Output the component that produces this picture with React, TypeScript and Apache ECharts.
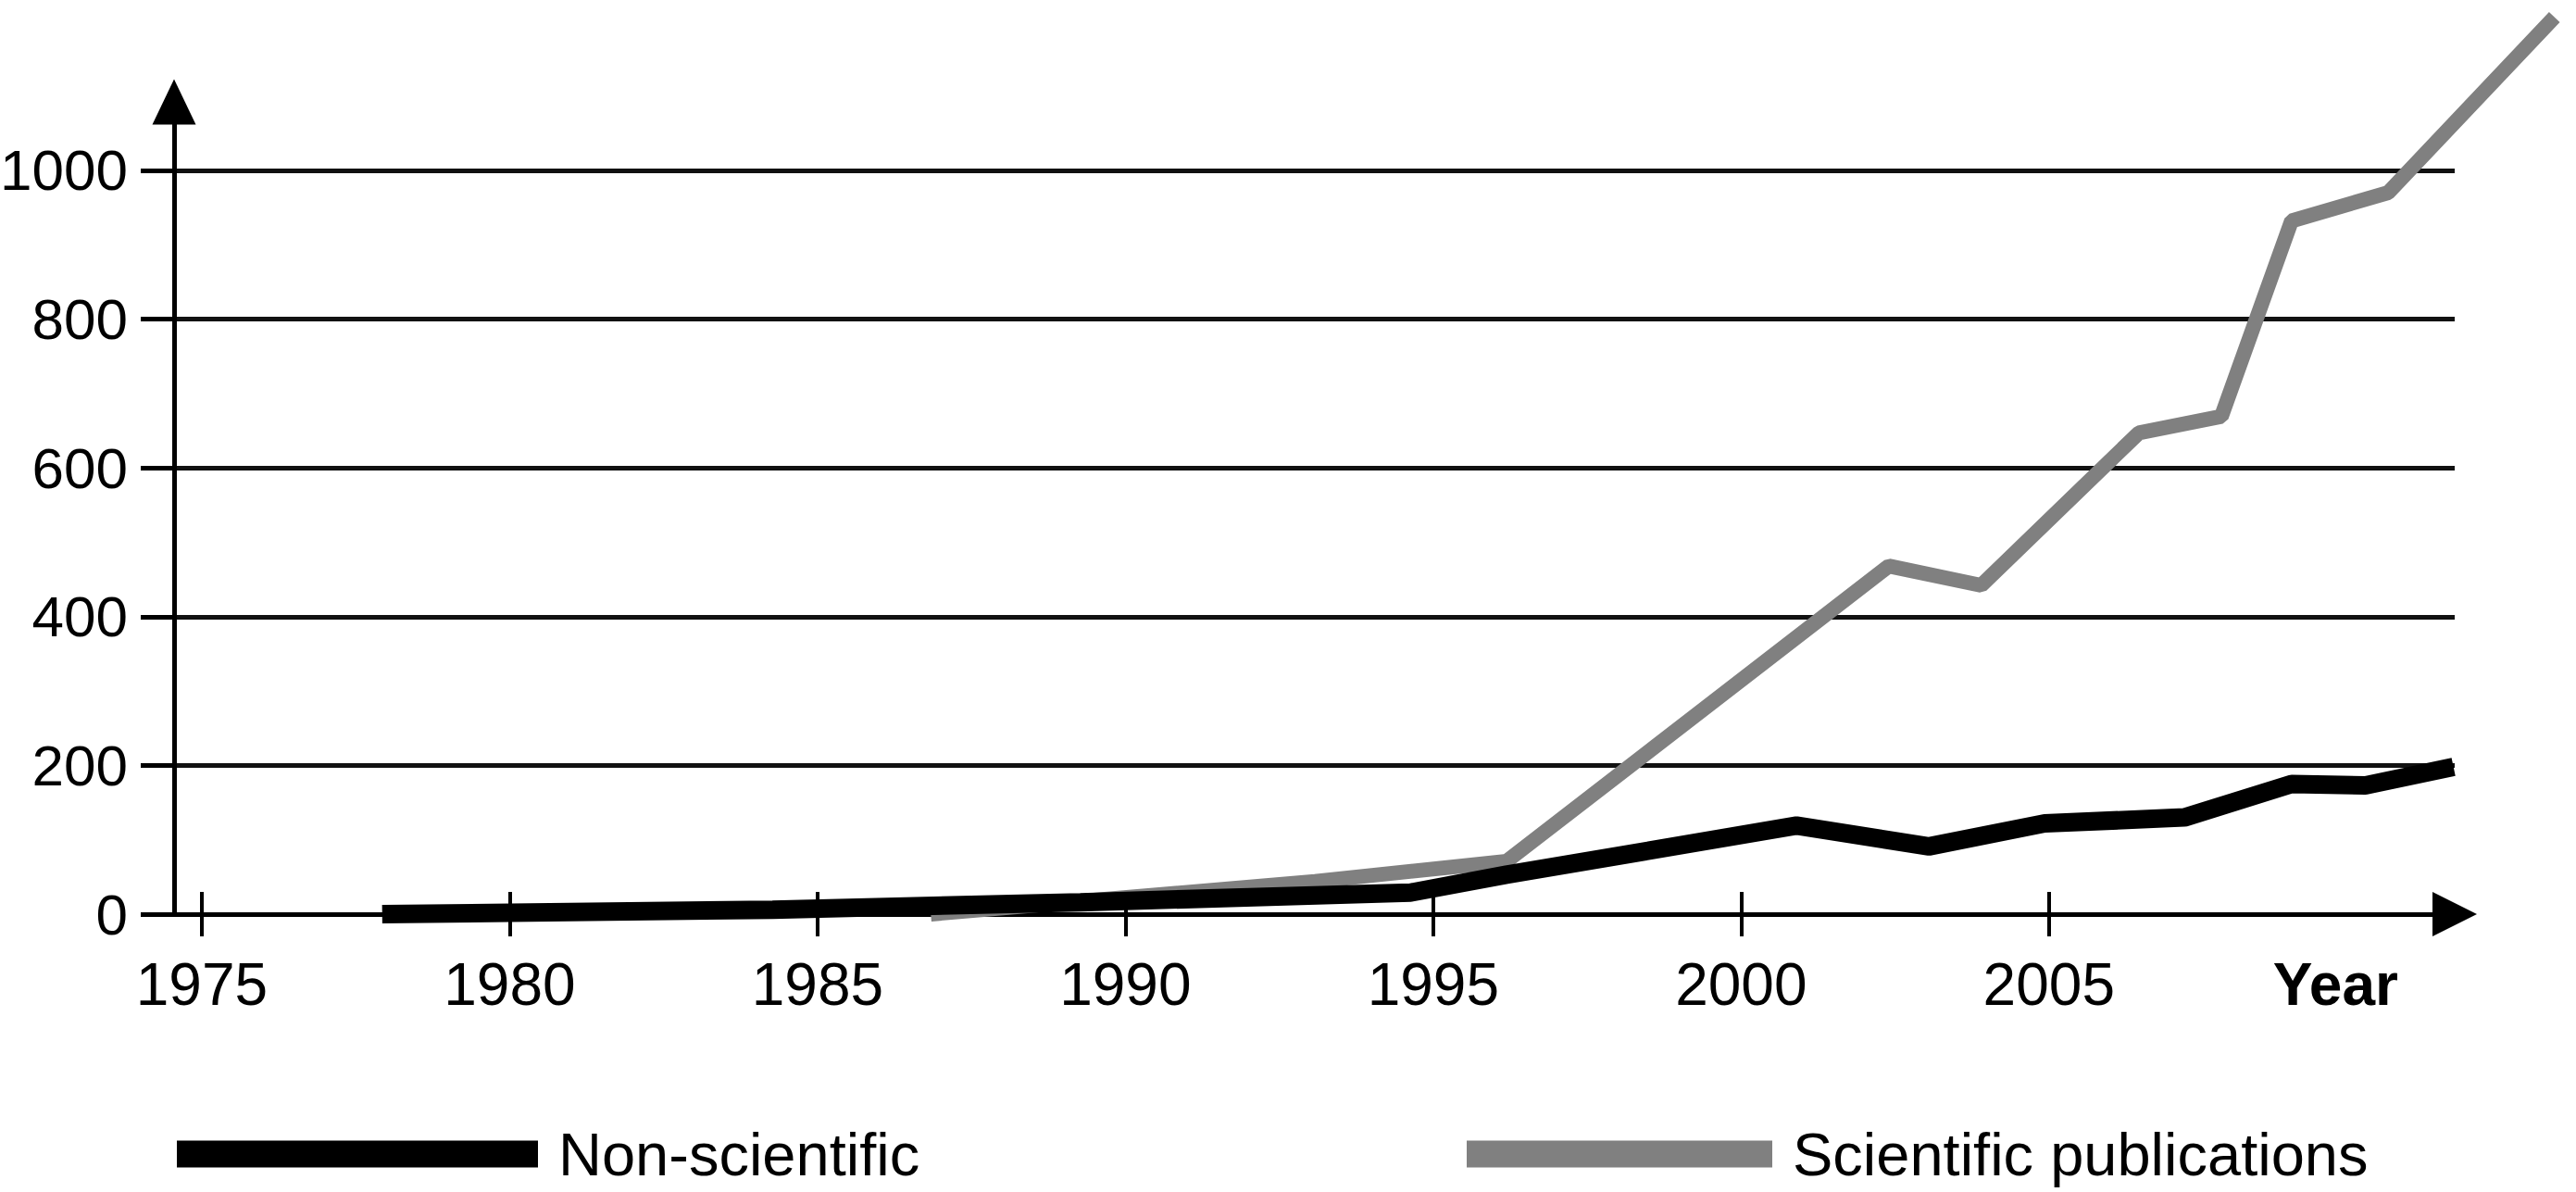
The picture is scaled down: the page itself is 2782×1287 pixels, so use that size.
import React, { useEffect, useRef } from "react";
import * as echarts from "echarts";

// Axis ticks / labels
const yearTicks = [1975, 1980, 1985, 1990, 1995, 2000, 2005];
const yearLabels = [1975, 1980, 1985, 1990, 1995, 2000, 2005, 2010];
const yearAxisTitle = "Year";
const valueTicks = [0, 200, 400, 600, 800, 1000];

// Series (years, values read against the grid lines)
const nonSciName = "Non-scientific";
const nonSciYears = [1977.93, 1984.27, 1989.27, 1994.63, 1996.19, 2000.9, 2003.05, 2004.93, 2007.2, 2008.94, 2010.14, 2011.57];
const nonSciValues = [0, 6, 16, 29, 53, 119, 91, 122, 130, 175, 173, 198];

const sciName = "Scientific publications";
const sciYears = [1986.84, 1993.08, 1996.19, 2002.4, 2003.9, 2006.46, 2007.8, 2008.94, 2010.51, 2013.21];
const sciValues = [0, 44, 71, 468, 442, 647, 669, 932, 970, 1206];

const FONT = "'Liberation Sans', Arial, sans-serif";
const W = 2782;
const H = 1287;
const X_MIN = 1974.55;
const X_MAX = 2011.59;
const Y_MAX = 1092;
const G = { left: 188, right: 131, top: 110, bottom: 300 };

export default function App() {
  const ref = useRef<HTMLDivElement>(null);

  useEffect(() => {
    if (!ref.current) return;
    const chart = echarts.init(ref.current, null, { renderer: "svg" });

    const pairs = (xs: number[], ys: number[]) => xs.map((x, i) => [x, ys[i]]);

    // Second (invisible) grid for the data: same scale, wider area so the
    // series may run past the axis arrows as in the original.
    const gw = W - G.left - G.right;
    const gh = H - G.top - G.bottom;
    const pxPerYear = gw / (X_MAX - X_MIN);
    const pxPerUnit = gh / Y_MAX;
    const dataXMax = X_MIN + (W - G.left) / pxPerYear;
    const dataYMax = (H - G.bottom) / pxPerUnit;

    const hiddenAxis = {
      show: false,
      axisLine: { show: false },
      axisTick: { show: false },
      axisLabel: { show: false },
      splitLine: { show: false },
    };

    const legendText = { fontSize: 65, fontFamily: FONT, color: "#000", lineHeight: 66, padding: [0, 0, 0, 17] };

    const option: any = {
      animation: false,
      backgroundColor: "#ffffff",
      grid: [
        { left: G.left, right: G.right, top: G.top, bottom: G.bottom, containLabel: false, outerBoundsMode: "none" },
        { left: G.left, right: 0, top: 0, bottom: G.bottom, containLabel: false, outerBoundsMode: "none" },
      ],
      legend: [
        {
          data: [nonSciName],
          left: 191,
          top: 1213,
          itemWidth: 390,
          itemHeight: 29,
          icon: "rect",
          selectedMode: false,
          padding: 0,
          textStyle: legendText,
        },
        {
          data: [sciName],
          left: 1584,
          top: 1213,
          itemWidth: 330,
          itemHeight: 29,
          icon: "rect",
          selectedMode: false,
          padding: 0,
          textStyle: legendText,
        },
      ],
      xAxis: [
        {
          type: "value",
          gridIndex: 0,
          position: "bottom",
          min: X_MIN,
          max: X_MAX,
          axisLine: {
            show: true,
            onZero: false,
            lineStyle: { color: "#000", width: 5 },
            symbol: ["none", "triangle"],
            symbolSize: [48, 48],
          },
          axisTick: {
            show: true,
            length: 24,
            customValues: yearTicks,
            lineStyle: { color: "#000", width: 4 },
          },
          axisLabel: {
            show: true,
            customValues: yearLabels,
            margin: 44,
            fontSize: 64,
            fontFamily: FONT,
            color: "#000",
            formatter: (v: number) =>
              Math.round(v) === 2010 ? "{y|" + yearAxisTitle + "}" : String(Math.round(v)),
            rich: {
              y: { fontSize: 64, fontWeight: "bold", fontFamily: FONT, color: "#000", padding: [0, 46, 0, 0] },
            },
          },
          splitLine: { show: false },
        },
        {
          // upward half of the crossing ticks
          type: "value",
          gridIndex: 0,
          position: "top",
          offset: -gh,
          min: X_MIN,
          max: X_MAX,
          axisLine: { show: false, onZero: false },
          axisTick: {
            show: true,
            length: 24,
            customValues: yearTicks,
            lineStyle: { color: "#000", width: 4 },
          },
          axisLabel: { show: false },
          splitLine: { show: false },
        },
        { type: "value", gridIndex: 1, min: X_MIN, max: dataXMax, ...hiddenAxis },
      ],
      yAxis: [
        {
          type: "value",
          gridIndex: 0,
          min: 0,
          max: Y_MAX,
          interval: 200,
          axisLine: {
            show: true,
            onZero: false,
            lineStyle: { color: "#000", width: 5 },
            symbol: ["none", "triangle"],
            symbolSize: [47, 49],
          },
          axisTick: {
            show: true,
            length: 36,
            customValues: valueTicks,
            lineStyle: { color: "#000", width: 5 },
          },
          axisLabel: {
            show: true,
            customValues: valueTicks,
            margin: 50,
            fontSize: 62,
            fontFamily: FONT,
            color: "#000",
            formatter: (v: number) => String(Math.round(v)),
          },
          splitLine: { show: true, lineStyle: { color: "#111", width: 5 } },
        },
        { type: "value", gridIndex: 1, min: 0, max: dataYMax, ...hiddenAxis },
      ],
      series: [
        {
          name: sciName,
          type: "line",
          xAxisIndex: 2,
          yAxisIndex: 1,
          data: pairs(sciYears, sciValues),
          showSymbol: false,
          symbol: "none",
          clip: false,
          itemStyle: { color: "#808080" },
          lineStyle: { color: "#808080", width: 16 },
          z: 3,
        },
        {
          name: nonSciName,
          type: "line",
          xAxisIndex: 2,
          yAxisIndex: 1,
          data: pairs(nonSciYears, nonSciValues),
          showSymbol: false,
          symbol: "none",
          clip: false,
          itemStyle: { color: "#000000" },
          lineStyle: { color: "#000000", width: 20 },
          z: 4,
        },
      ],
    };

    chart.setOption(option);
    return () => chart.dispose();
  }, []);

  return (
    <div
      ref={ref}
      style={{ position: "fixed", left: 0, top: 0, width: W, height: H, background: "#fff" }}
    />
  );
}
